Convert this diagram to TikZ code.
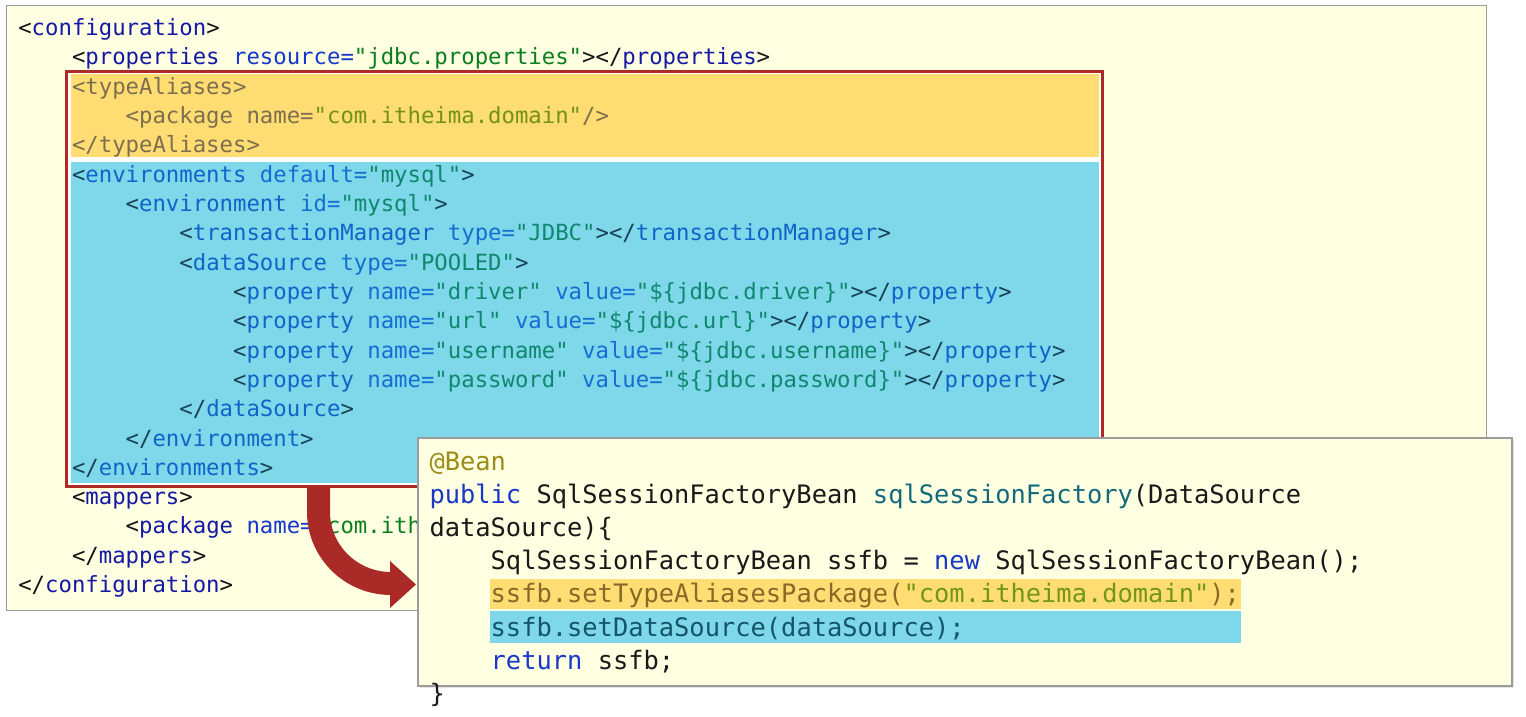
\documentclass[tikz,border=0pt]{standalone}
\usepackage{fontspec}
\usepackage{xcolor}
\newfontfamily\codefont{DejaVu Sans Mono}
\definecolor{paper}{RGB}{255,255,226}
\definecolor{frame}{RGB}{155,155,155}
\definecolor{hlY}{RGB}{255,221,114}
\definecolor{hlB}{RGB}{126,216,234}
\definecolor{redbox}{RGB}{175,42,38}
\definecolor{arrowred}{RGB}{170,42,40}
% normal xml
\definecolor{nD}{RGB}{20,20,20}
\definecolor{nT}{RGB}{20,25,165}
\definecolor{nA}{RGB}{20,55,205}
\definecolor{nV}{RGB}{10,125,30}
% yellow band
\definecolor{yT}{RGB}{125,110,80}
\definecolor{yV}{RGB}{115,145,25}
% blue band
\definecolor{bD}{RGB}{25,65,85}
\definecolor{bT}{RGB}{15,100,200}
\definecolor{bA}{RGB}{20,110,210}
\definecolor{bV}{RGB}{15,135,110}
% java
\definecolor{jAnn}{RGB}{155,140,25}
\definecolor{jKw}{RGB}{25,55,200}
\definecolor{jTx}{RGB}{25,25,25}
\definecolor{jFn}{RGB}{20,105,125}
\definecolor{jYt}{RGB}{135,105,40}
\definecolor{jYs}{RGB}{115,150,20}
\definecolor{jBt}{RGB}{20,85,105}
\newcommand\qnD[1]{\textcolor{nD}{#1}}
\newcommand\qnT[1]{\textcolor{nT}{#1}}
\newcommand\qnA[1]{\textcolor{nA}{#1}}
\newcommand\qnV[1]{\textcolor{nV}{#1}}
\newcommand\qyT[1]{\textcolor{yT}{#1}}
\newcommand\qyV[1]{\textcolor{yV}{#1}}
\newcommand\qbD[1]{\textcolor{bD}{#1}}
\newcommand\qbT[1]{\textcolor{bT}{#1}}
\newcommand\qbA[1]{\textcolor{bA}{#1}}
\newcommand\qbV[1]{\textcolor{bV}{#1}}
\newcommand\qjA[1]{\textcolor{jAnn}{#1}}
\newcommand\qjK[1]{\textcolor{jKw}{#1}}
\newcommand\qjT[1]{\textcolor{jTx}{#1}}
\newcommand\qjF[1]{\textcolor{jFn}{#1}}
\newcommand\qjY[1]{\textcolor{jYt}{#1}}
\newcommand\qjS[1]{\textcolor{jYs}{#1}}
\newcommand\qjB[1]{\textcolor{jBt}{#1}}
\begin{document}
\begin{tikzpicture}[x=1pt,y=-1pt,
  panel/.style={draw=frame, line width=1.5pt, fill=paper, inner sep=0pt, outer sep=0pt, anchor=north west},
  band/.style={inner sep=0pt, outer sep=0pt, anchor=north west},
  codeA/.style={anchor=base west, inner sep=0pt, outer sep=0pt, font=\codefont\fontsize{22.3pt}{26pt}\selectfont},
  codeB/.style={anchor=base west, inner sep=0pt, outer sep=0pt, font=\codefont\fontsize{25.4pt}{30pt}\selectfont}]
\fill[white] (0,0) rectangle (1526,717);
\useasboundingbox (0,0) rectangle (1526,717);
% panel 1
\node[panel, minimum width=1480pt, minimum height=605pt] (p1) at (6.5,5.5) {};
\node[band, draw=redbox, line width=3pt, fill=white, minimum width=1036pt, minimum height=415pt] (rb) at (66.5,71.5) {};
\node[band, fill=hlY, minimum width=1028pt, minimum height=83pt] (yb) at (71,74) {};
\node[band, fill=hlB, minimum width=1028pt, minimum height=321pt] (bb) at (71,162) {};
% panel 1 text
\node[codeA] (l0) at (18.3,35.5) {\qnD{<}\qnT{configuration}\qnD{>}};
\node[codeA] (l1) at (72,64.8) {\qnD{<}\qnT{properties} \qnA{resource=}\qnV{"jdbc.properties"}\qnD{></}\qnT{properties}\qnD{>}};
\node[codeA] (l2) at (72,94.1) {\qyT{<typeAliases>}};
\node[codeA] (l3) at (125.7,123.5) {\qyT{<package name=}\qyV{"com.itheima.domain"}\qyT{/>}};
\node[codeA] (l4) at (72,152.8) {\qyT{</typeAliases>}};
\node[codeA] (l5) at (72,182.1) {\qbD{<}\qbT{environments} \qbA{default=}\qbV{"mysql"}\qbD{>}};
\node[codeA] (l6) at (125.7,211.4) {\qbD{<}\qbT{environment} \qbA{id=}\qbV{"mysql"}\qbD{>}};
\node[codeA] (l7) at (179.4,240.7) {\qbD{<}\qbT{transactionManager} \qbA{type=}\qbV{"JDBC"}\qbD{></}\qbT{transactionManager}\qbD{>}};
\node[codeA] (l8) at (179.4,270.1) {\qbD{<}\qbT{dataSource} \qbA{type=}\qbV{"POOLED"}\qbD{>}};
\node[codeA] (l9) at (233.1,299.4) {\qbD{<}\qbT{property} \qbA{name=}\qbV{"driver"} \qbA{value=}\qbV{"\$\{jdbc.driver\}"}\qbD{></}\qbT{property}\qbD{>}};
\node[codeA] (l10) at (233.1,328.7) {\qbD{<}\qbT{property} \qbA{name=}\qbV{"url"} \qbA{value=}\qbV{"\$\{jdbc.url\}"}\qbD{></}\qbT{property}\qbD{>}};
\node[codeA] (l11) at (233.1,358) {\qbD{<}\qbT{property} \qbA{name=}\qbV{"username"} \qbA{value=}\qbV{"\$\{jdbc.username\}"}\qbD{></}\qbT{property}\qbD{>}};
\node[codeA] (l12) at (233.1,387.3) {\qbD{<}\qbT{property} \qbA{name=}\qbV{"password"} \qbA{value=}\qbV{"\$\{jdbc.password\}"}\qbD{></}\qbT{property}\qbD{>}};
\node[codeA] (l13) at (179.4,416.7) {\qbD{</}\qbT{dataSource}\qbD{>}};
\node[codeA] (l14) at (125.7,446) {\qbD{</}\qbT{environment}\qbD{>}};
\node[codeA] (l15) at (72,475.3) {\qbD{</}\qbT{environments}\qbD{>}};
\node[codeA] (l16) at (72,504.6) {\qnD{<}\qnT{mappers}\qnD{>}};
\node[codeA] (l17) at (125.7,533.9) {\qnD{<}\qnT{package} \qnA{name=}\qnV{"com.ith}};
\node[codeA] (l18) at (72,563.3) {\qnD{</}\qnT{mappers}\qnD{>}};
\node[codeA] (l19) at (18.3,592.6) {\qnD{</}\qnT{configuration}\qnD{>}};
% arrow
\coordinate (aS) at (318.5,486);
\coordinate (aB) at (318.5,512);
\coordinate (aK) at (391,583.5);
\coordinate (aT) at (416,584.5);
\draw[arrowred, line width=23pt] (aS) -- (aB) .. controls (318.5,551.5) and (351,583.5) .. (aK);
\fill[arrowred] (390,561) -- (aT) -- (390,608) -- cycle;
% panel 2
\fill[black!10] (420,440) rectangle (1514,688);
\node[panel, minimum width=1094pt, minimum height=248pt] (p2) at (418,438) {};
\node[band, fill=hlY, minimum width=751pt, minimum height=30pt] (hy) at (490,579) {};
\node[band, fill=hlB, minimum width=751pt, minimum height=32pt] (hb) at (490,611) {};
\node[codeB] (j0) at (429.5,470) {\qjA{@Bean}};
\node[codeB] (j1) at (429.5,503.2) {\qjK{public} \qjT{SqlSessionFactoryBean} \qjF{sqlSessionFactory}\qjT{(DataSource}};
\node[codeB] (j2) at (429.5,536.4) {\qjT{dataSource)\{}};
\node[codeB] (j3) at (490.7,569.6) {\qjT{SqlSessionFactoryBean ssfb =} \qjK{new} \qjT{SqlSessionFactoryBean();}};
\node[codeB] (j4) at (490.7,602.8) {\qjY{ssfb.setTypeAliasesPackage(}\qjS{"com.itheima.domain"}\qjY{);}};
\node[codeB] (j5) at (490.7,636) {\qjB{ssfb.setDataSource(dataSource);}};
\node[codeB] (j6) at (490.7,669.2) {\qjK{return} \qjT{ssfb;}};
\node[codeB] (j7) at (429.5,702.4) {\qjT{\}}};
\end{tikzpicture}
\end{document}
